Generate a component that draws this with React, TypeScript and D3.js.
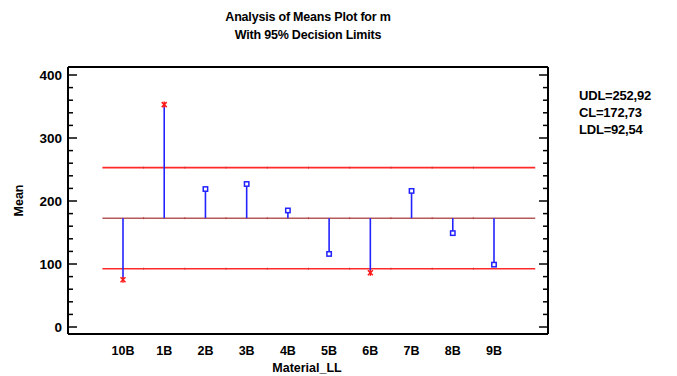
import React from "react";
import * as d3 from "d3";

// category labels and group means
const materials = ["10B", "1B", "2B", "3B", "4B", "5B", "6B", "7B", "8B", "9B"];
const means = [75, 353, 219, 227, 185, 116, 86, 216, 149, 99];

const udl = 252.92;
const cl = 172.73;
const ldl = 92.54;

const yTicks = [0, 100, 200, 300, 400];
const yMinorTicks = d3.range(0, 401, 20);

const W = 677,
  H = 376;
const box = { left: 68, right: 548, top: 67, bottom: 334 };

const font = "'Liberation Sans', Arial, sans-serif";

const App: React.FC = () => {
  const x = d3.scalePoint<string>().domain(materials).range([123, 494]);
  const step = x.step();
  const y = d3.scaleLinear().domain([-11.1, 412.7]).range([box.bottom, box.top]);

  const lineStart = x(materials[0])! - step / 2;
  const lineEnd = x(materials[materials.length - 1])! + step;
  // small joints on the limit lines, between categories
  const joints = materials.slice(1).map((m) => x(m)! - step / 2);

  const limits = [
    { v: udl, color: "#ff2b2b" },
    { v: cl, color: "#b55a5a" },
    { v: ldl, color: "#ff2b2b" },
  ];

  return (
    <svg
      width={W}
      height={H}
      style={{ position: "absolute", left: 0, top: 0, background: "#fff" }}
      fontFamily={font}
    >
      {/* title */}
      <text x={308} y={21} textAnchor="middle" fontSize={12.5} fontWeight="bold" letterSpacing={-0.2}>
        Analysis of Means Plot for m
      </text>
      <text x={308} y={39} textAnchor="middle" fontSize={12.5} fontWeight="bold" letterSpacing={-0.2}>
        With 95% Decision Limits
      </text>

      {/* limit lines */}
      {limits.map((l, i) => (
        <g key={i}>
          <line
            x1={lineStart}
            x2={lineEnd}
            y1={y(l.v)}
            y2={y(l.v)}
            stroke={l.color}
            strokeWidth={1.6}
          />
          {joints.map((j, k) => (
            <line
              key={k}
              x1={j}
              x2={j}
              y1={y(l.v) - 1}
              y2={y(l.v) + 1}
              stroke="#c03030"
              strokeWidth={0.8}
            />
          ))}
        </g>
      ))}

      {/* stems */}
      {materials.map((m, i) => (
        <line
          key={m}
          x1={x(m)}
          x2={x(m)}
          y1={y(cl)}
          y2={y(means[i])}
          stroke="#2222ff"
          strokeWidth={1.6}
        />
      ))}

      {/* markers */}
      {materials.map((m, i) => {
        const cx = x(m)!;
        const cy = y(means[i]);
        const out = means[i] > udl || means[i] < ldl;
        if (out) {
          return (
            <g key={m} stroke="#ff1a1a" strokeWidth={1.5}>
              <line x1={cx - 2.5} x2={cx + 2.5} y1={cy - 2.5} y2={cy + 2.5} />
              <line x1={cx - 2.5} x2={cx + 2.5} y1={cy + 2.5} y2={cy - 2.5} />
              <line x1={cx} x2={cx} y1={cy - 3} y2={cy + 3} />
            </g>
          );
        }
        return (
          <rect
            key={m}
            x={cx - 2.2}
            y={cy - 2.2}
            width={4.4}
            height={4.4}
            fill="#fff"
            stroke="#2222ff"
            strokeWidth={1.5}
          />
        );
      })}

      {/* frame */}
      <line x1={box.left} x2={box.right} y1={box.top} y2={box.top} stroke="#000" strokeWidth={2} />
      <line x1={box.left} x2={box.right} y1={box.bottom} y2={box.bottom} stroke="#000" strokeWidth={2} />
      <line x1={box.left} x2={box.left} y1={box.top} y2={box.bottom} stroke="#000" strokeWidth={2} />
      <line x1={box.right} x2={box.right} y1={box.top} y2={box.bottom} stroke="#000" strokeWidth={2} />

      {/* y ticks, both sides, pointing inward */}
      {yMinorTicks.map((t) => {
        const major = t % 100 === 0;
        const len = major ? 9 : 5;
        return (
          <g key={t} stroke="#000" strokeWidth={1.5}>
            <line x1={box.left} x2={box.left + len} y1={y(t)} y2={y(t)} />
            <line x1={box.right} x2={box.right - len} y1={y(t)} y2={y(t)} />
          </g>
        );
      })}
      {yTicks.map((t) => (
        <text
          key={t}
          x={62}
          y={y(t)}
          dy="0.36em"
          textAnchor="end"
          fontSize={13.5}
          fontWeight="bold"
        >
          {t}
        </text>
      ))}

      {/* x labels */}
      {materials.map((m) => (
        <text key={m} x={x(m)} y={355} textAnchor="middle" fontSize={12.5} fontWeight="bold">
          {m}
        </text>
      ))}

      {/* axis titles */}
      <text x={307} y={372} textAnchor="middle" fontSize={12.5} fontWeight="bold">
        Material_LL
      </text>
      <text
        transform={`translate(23,${(box.top + box.bottom) / 2}) rotate(-90)`}
        textAnchor="middle"
        fontSize={12.5}
        fontWeight="bold"
      >
        Mean
      </text>

      {/* limit values */}
      {[`UDL=252,92`, `CL=172,73`, `LDL=92,54`].map((s, i) => (
        <text key={s} x={579} y={100 + i * 17} fontSize={13} fontWeight="bold" letterSpacing={-0.2}>
          {s}
        </text>
      ))}
    </svg>
  );
};

export default App;
